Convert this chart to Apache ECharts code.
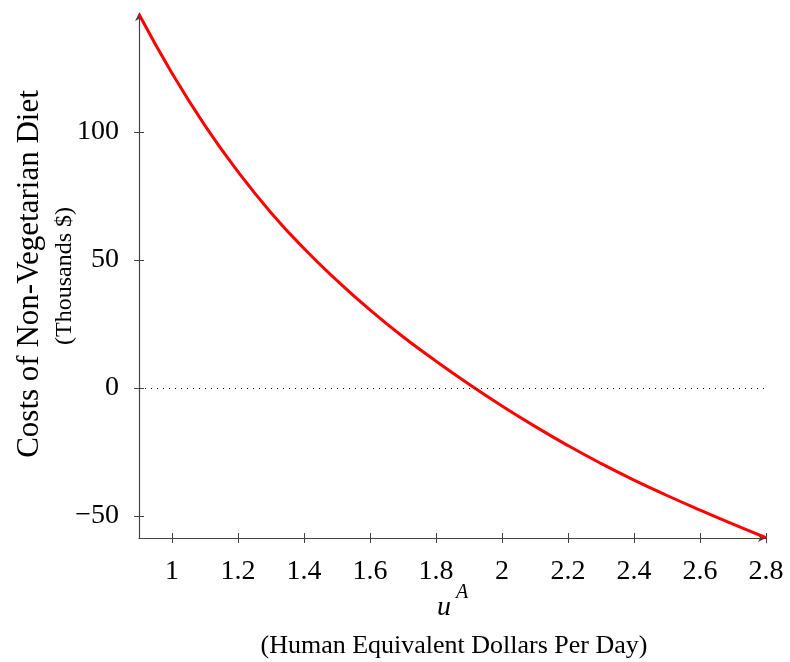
<!DOCTYPE html>
<html>
<head>
<meta charset="utf-8">
<script src="https://cdn.jsdelivr.net/npm/echarts@6/dist/echarts.min.js"></script>
<style>
  html, body { margin: 0; padding: 0; background: #fff; }
  #chart { width: 790px; height: 662px; }
</style>
</head>
<body>
<div id="chart"></div>
<script>
// values
const uValues = [0.9, 1.0, 1.1, 1.2, 1.3, 1.4, 1.5, 1.6, 1.7, 1.8, 1.9,
  2.0, 2.1, 2.2, 2.3, 2.4, 2.5, 2.6, 2.7, 2.8];
const costValues = [146, 123, 102.5, 84.5, 68.5, 54.5, 42, 30.5, 20, 10.5, 1.5,
  -7, -15, -22.5, -29.5, -36, -42, -47.7, -53.2, -58.5];
const xTicks = [1, 1.2, 1.4, 1.6, 1.8, 2, 2.2, 2.4, 2.6, 2.8];
const yTicks = [-50, 0, 50, 100];

const SERIF = "'Liberation Serif', 'DejaVu Serif', serif";
const AXIS_COLOR = "#444";

const chart = echarts.init(document.getElementById("chart"), null, { renderer: "canvas" });

const lineData = uValues.map((u, i) => [u, costValues[i]]);

// second axis pair only draws the inner half of each tick, so ticks cross the axis line
const tickOnly = (values) => ({
  show: true,
  inside: true,
  length: 5,
  customValues: values,
  lineStyle: { color: AXIS_COLOR, width: 1 },
});

const option = {
  animation: false,
  backgroundColor: "#fff",
  grid: { left: 139, right: 24, top: 13, bottom: 124, containLabel: false },
  xAxis: [
    {
      type: "value",
      min: 0.9,
      max: 2.8,
      axisLine: {
        show: true,
        onZero: false,
        symbol: ["none", "arrow"],
        symbolSize: [6, 8],
        lineStyle: { color: AXIS_COLOR, width: 1.2 },
      },
      axisTick: {
        show: true,
        length: 5,
        customValues: xTicks,
        lineStyle: { color: AXIS_COLOR, width: 1 },
      },
      axisLabel: {
        customValues: xTicks,
        margin: 20,
        color: "#000",
        fontFamily: SERIF,
        fontSize: 28,
        formatter: (v) => String(v),
      },
      splitLine: { show: false },
    },
    {
      type: "value",
      min: 0.9,
      max: 2.8,
      position: "bottom",
      axisLine: { show: false, onZero: false },
      axisTick: tickOnly(xTicks),
      axisLabel: { show: false },
      splitLine: { show: false },
    },
  ],
  yAxis: [
    {
      type: "value",
      min: -58.6,
      max: 146.5,
      axisLine: {
        show: true,
        onZero: false,
        symbol: ["none", "arrow"],
        symbolSize: [6, 8],
        lineStyle: { color: AXIS_COLOR, width: 1.2 },
      },
      axisTick: {
        show: true,
        length: 5,
        customValues: yTicks,
        lineStyle: { color: AXIS_COLOR, width: 1 },
      },
      axisLabel: {
        customValues: yTicks,
        margin: 20,
        color: "#000",
        fontFamily: SERIF,
        fontSize: 28,
        formatter: (v) => (v < 0 ? "\u2212" + Math.abs(v) : String(v)),
      },
      splitLine: { show: false },
    },
    {
      type: "value",
      min: -58.6,
      max: 146.5,
      position: "left",
      axisLine: { show: false, onZero: false },
      axisTick: tickOnly(yTicks),
      axisLabel: { show: false },
      splitLine: { show: false },
    },
  ],
  graphic: [
    {
      type: "text",
      x: 30,
      y: 274,
      rotation: Math.PI / 2,
      style: {
        text: "Costs of Non-Vegetarian Diet",
        font: "31px " + SERIF,
        fill: "#000",
        align: "center",
        verticalAlign: "middle",
      },
    },
    {
      type: "text",
      x: 65,
      y: 276,
      rotation: Math.PI / 2,
      style: {
        text: "(Thousands $)",
        font: "24px " + SERIF,
        fill: "#000",
        align: "center",
        verticalAlign: "middle",
      },
    },
    {
      type: "text",
      x: 444,
      y: 608,
      style: {
        text: "u",
        font: "italic 28px " + SERIF,
        fill: "#000",
        align: "center",
        verticalAlign: "middle",
      },
    },
    {
      type: "text",
      x: 462,
      y: 593,
      style: {
        text: "A",
        font: "italic 20px " + SERIF,
        fill: "#000",
        align: "center",
        verticalAlign: "middle",
      },
    },
    {
      type: "text",
      x: 454,
      y: 646,
      style: {
        text: "(Human Equivalent Dollars Per Day)",
        font: "26px " + SERIF,
        fill: "#000",
        align: "center",
        verticalAlign: "middle",
      },
    },
  ],
  series: [
    {
      type: "line",
      data: lineData,
      smooth: true,
      showSymbol: false,
      lineStyle: { color: "#ff0000", width: 3 },
      markLine: {
        silent: true,
        symbol: "none",
        label: { show: false },
        lineStyle: { color: "#000", type: [1, 5], width: 1 },
        data: [{ yAxis: 0 }],
      },
      z: 3,
    },
  ],
};

chart.setOption(option);
</script>
</body>
</html>
